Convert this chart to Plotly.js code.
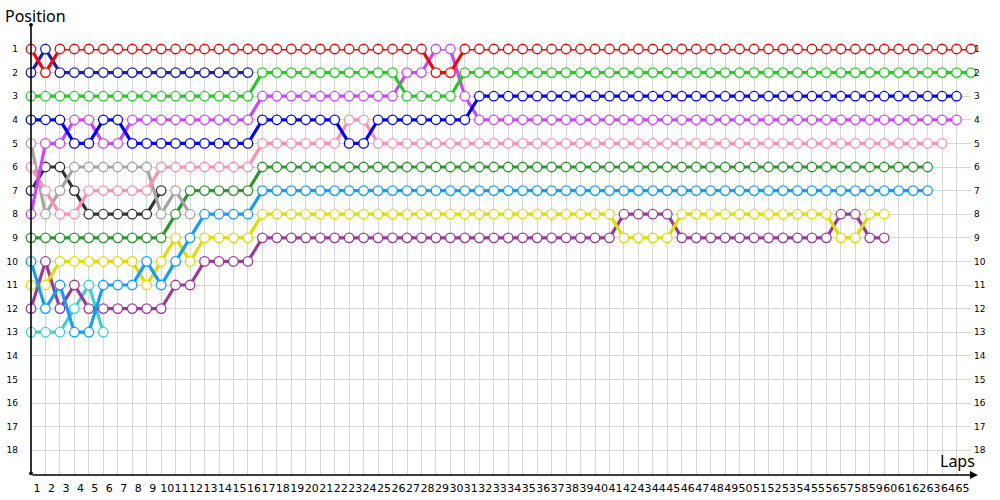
<!DOCTYPE html>
<html>
<head>
<meta charset="utf-8">
<script src="https://cdn.plot.ly/plotly-3.0.1.min.js"></script>
<style>html,body{margin:0;padding:0;background:#fff;}#chart{width:1000px;height:500px;}</style>
</head>
<body>
<div id="chart"></div>
<script>
// Position per lap (index 0 = lap 1)
const posRed = [1,2,1,1,1,1,1,1,1,1,1,1,1,1,1,1,1,1,1,1,1,1,1,1,1,1,1,1,2,2,1,1,1,1,1,1,1,1,1,1,1,1,1,1,1,1,1,1,1,1,1,1,1,1,1,1,1,1,1,1,1,1,1,1,1,1];
const posNavy = [2,1,2,2,2,2,2,2,2,2,2,2,2,2,2,2];
const posGreen = [3,3,3,3,3,3,3,3,3,3,3,3,3,3,3,3,2,2,2,2,2,2,2,2,2,2,3,3,3,3,2,2,2,2,2,2,2,2,2,2,2,2,2,2,2,2,2,2,2,2,2,2,2,2,2,2,2,2,2,2,2,2,2,2,2,2];
const posBlue = [4,4,4,5,5,4,4,5,5,5,5,5,5,5,5,5,4,4,4,4,4,4,5,5,4,4,4,4,4,4,4,3,3,3,3,3,3,3,3,3,3,3,3,3,3,3,3,3,3,3,3,3,3,3,3,3,3,3,3,3,3,3,3,3,3];
const posViolet = [8,5,5,4,4,5,5,4,4,4,4,4,4,4,4,4,3,3,3,3,3,3,3,3,3,3,2,2,1,1,3,4,4,4,4,4,4,4,4,4,4,4,4,4,4,4,4,4,4,4,4,4,4,4,4,4,4,4,4,4,4,4,4,4,4];
const posPink = [6,7,8,8,7,7,7,7,7,6,6,6,6,6,6,6,5,5,5,5,5,5,4,4,5,5,5,5,5,5,5,5,5,5,5,5,5,5,5,5,5,5,5,5,5,5,5,5,5,5,5,5,5,5,5,5,5,5,5,5,5,5,5,5];
const posGrey = [5,8,7,6,6,6,6,6,6,8,7,8];
const posBlack = [7,6,6,7,8,8,8,8,8,7];
const posDarkGreen = [9,9,9,9,9,9,9,9,9,9,8,7,7,7,7,7,6,6,6,6,6,6,6,6,6,6,6,6,6,6,6,6,6,6,6,6,6,6,6,6,6,6,6,6,6,6,6,6,6,6,6,6,6,6,6,6,6,6,6,6,6,6,6];
const posSky = [10,12,11,13,13,11,11,11,10,11,10,9,8,8,8,8,7,7,7,7,7,7,7,7,7,7,7,7,7,7,7,7,7,7,7,7,7,7,7,7,7,7,7,7,7,7,7,7,7,7,7,7,7,7,7,7,7,7,7,7,7,7,7];
const posYellow = [11,11,10,10,10,10,10,10,11,10,9,10,9,9,9,9,8,8,8,8,8,8,8,8,8,8,8,8,8,8,8,8,8,8,8,8,8,8,8,8,8,9,9,9,9,8,8,8,8,8,8,8,8,8,8,8,9,9,8,8];
const posPurple = [12,10,12,11,12,12,12,12,12,12,11,11,10,10,10,10,9,9,9,9,9,9,9,9,9,9,9,9,9,9,9,9,9,9,9,9,9,9,9,9,9,8,8,8,8,9,9,9,9,9,9,9,9,9,9,9,8,8,9,9];
const posTeal = [13,13,13,12,11,13];

const seriesNames = ['Red','Navy','Green','Blue','Violet','Pink','Grey','Black','Dark green','Sky','Yellow','Purple','Teal'];
const seriesPos = [posRed,posNavy,posGreen,posBlue,posViolet,posPink,posGrey,posBlack,posDarkGreen,posSky,posYellow,posPurple,posTeal];
const seriesColors = ['#ff0000','#1c1cb0','#22cc22','#0000ff','#cc44ff','#ff8fae','#a4a4a4','#333333','#26992a','#0f9dff','#dede00','#993a99','#3fd0c8'];

const lapTicks = [1,2,3,4,5,6,7,8,9,10,11,12,13,14,15,16,17,18,19,20,21,22,23,24,25,26,27,28,29,30,31,32,33,34,35,36,37,38,39,40,41,42,43,44,45,46,47,48,49,50,51,52,53,54,55,56,57,58,59,60,61,62,63,64,65,66];
const lapLabels = lapTicks.map(v => v <= 65 ? String(v) : '');
const posTicks = [1,2,3,4,5,6,7,8,9,10,11,12,13,14,15,16,17,18];

const traces = seriesPos.map((p, i) => ({
  type: 'scatter',
  mode: 'lines+markers',
  name: seriesNames[i],
  x: p.map((_, k) => k + 1),
  y: p,
  cliponaxis: false,
  line: {color: seriesColors[i], width: 3.2},
  marker: {symbol: 'circle', size: 9.5, color: '#ffffff', line: {color: seriesColors[i], width: 1.3}},
  hoverinfo: 'x+y+name'
})).reverse();

traces.push({type:'scatter', mode:'none', x:[1], y:[1], yaxis:'y2', hoverinfo:'skip', showlegend:false});

const fontFam = 'DejaVu Sans, Verdana, sans-serif';
const titleFam = 'Noto Sans, DejaVu Sans, sans-serif';

const layout = {
  width: 1000, height: 500,
  margin: {l: 31, r: 29, t: 49, b: 25, pad: 0},
  paper_bgcolor: '#ffffff', plot_bgcolor: '#ffffff',
  showlegend: false,
  xaxis: {
    range: [1, 66], tickvals: lapTicks, ticktext: lapLabels,
    showgrid: true, gridcolor: '#d6d6d6', gridwidth: 1,
    zeroline: false, showline: false, ticks: '',
    tickangle: 0, ticklabelshift: 6, ticklabelstandoff: 5,
    tickfont: {family: fontFam, size: 11, color: '#000'}
  },
  yaxis: {
    range: [19.05, 1], tickvals: posTicks,
    showgrid: true, gridcolor: '#d6d6d6', gridwidth: 1,
    zeroline: false, showline: false, ticks: '',
    ticklabelstandoff: 12,
    tickfont: {family: fontFam, size: 9, color: '#000'}
  },
  yaxis2: {
    range: [19.05, 1], tickvals: posTicks, overlaying: 'y', side: 'right',
    showgrid: false, zeroline: false, showline: false, ticks: '',
    ticklabelstandoff: 2,
    tickfont: {family: fontFam, size: 9, color: '#000'}
  },
  annotations: [
    {xref:'paper', yref:'paper', x: 1.0074, y: 0, ax: -947, ay: 0, axref:'pixel', ayref:'pixel',
     text:'', showarrow:true, arrowhead:2, arrowsize:1, arrowwidth:1.6, arrowcolor:'#000'},
    {xref:'paper', yref:'paper', x: 0, y: 1.0568, ax: 0, ay: 450,
     text:'', showarrow:true, arrowhead:6, arrowsize:0.6, arrowwidth:1.6, arrowcolor:'#000',
     arrowside:'end+start', startarrowhead:6, startarrowsize:0.6},
    {xref:'paper', yref:'paper', x: 0.986, y: 0, yanchor:'bottom', xanchor:'center', yshift: 1,
     text:'Laps', showarrow:false, font:{family: titleFam, size: 16, color:'#000'}},
    {xref:'paper', yref:'paper', x: 0, y: 1.078, yanchor:'middle', xanchor:'left', xshift: -28,
     text:'Position', showarrow:false, font:{family: titleFam, size: 16, color:'#000'}}
  ]
};

Plotly.newPlot('chart', traces, layout, {displayModeBar: false});
</script>
</body>
</html>
